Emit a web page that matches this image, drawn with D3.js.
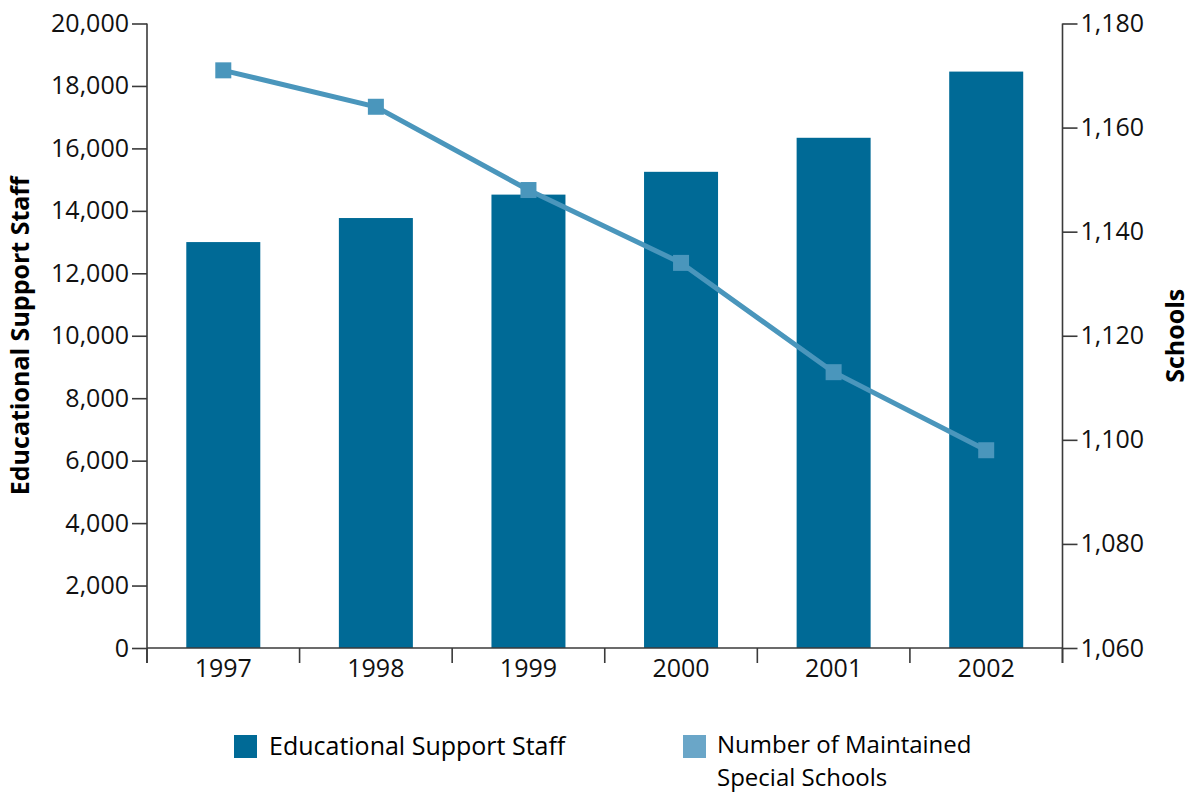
<!DOCTYPE html>
<html>
<head>
<meta charset="utf-8">
<script src="https://cdn.jsdelivr.net/npm/d3@7"></script>
<style>
  body { margin: 0; background: #fff; }
  svg { font-family: "Open Sans", sans-serif; }
  .axis { font-family: "Open Sans", sans-serif; }
  .axis path, .axis line { stroke: #3a3a3a; stroke-width: 1.6; }
  .axis text { fill: #111; font-size: 25px; }
</style>
</head>
<body>
<div id="chart"></div>
<script>
const years = ["1997", "1998", "1999", "2000", "2001", "2002"];
const staff = [13000, 13770, 14520, 15250, 16340, 18460];
const schools = [1171, 1164, 1148, 1134, 1113, 1098];
const staffTicks = [0, 2000, 4000, 6000, 8000, 10000, 12000, 14000, 16000, 18000, 20000];
const schoolTicks = [1060, 1080, 1100, 1120, 1140, 1160, 1180];

const width = 1191, height = 794;
const plotLeft = 147, plotRight = 1062.5, plotTop = 23.5, plotBottom = 648;

const svg = d3.select("#chart").append("svg")
    .attr("width", width)
    .attr("height", height);

const x = d3.scaleBand()
    .domain(years)
    .range([plotLeft, plotRight])
    .paddingInner(0.515)
    .paddingOuter(0.2575);

const yLeft = d3.scaleLinear().domain([0, 20000]).range([plotBottom, plotTop]);
const yRight = d3.scaleLinear().domain([1060, 1180]).range([plotBottom, plotTop]);

const fmt = d3.format(",");

// bars
svg.append("g")
  .selectAll("rect")
  .data(staff)
  .enter().append("rect")
    .attr("x", (d, i) => x(years[i]))
    .attr("y", d => yLeft(d))
    .attr("width", x.bandwidth())
    .attr("height", d => plotBottom - yLeft(d))
    .attr("fill", "#006a96");

// left axis
svg.append("g")
    .attr("class", "axis")
    .attr("transform", "translate(" + plotLeft + ",0)")
    .call(d3.axisLeft(yLeft).tickValues(staffTicks).tickFormat(fmt).tickSize(15).tickPadding(3).tickSizeOuter(0))
    .call(g => g.select(".domain").attr("d", "M0," + plotTop + "V" + (plotBottom + 15)));

// right axis
svg.append("g")
    .attr("class", "axis")
    .attr("transform", "translate(" + plotRight + ",0)")
    .call(d3.axisRight(yRight).tickValues(schoolTicks).tickFormat(fmt).tickSize(15).tickPadding(3).tickSizeOuter(0))
    .call(g => g.select(".domain").attr("d", "M0," + plotTop + "V" + (plotBottom + 15)));

// bottom axis: labels centred, ticks on band boundaries
const xAxis = svg.append("g")
    .attr("class", "axis")
    .attr("transform", "translate(0," + plotBottom + ")")
    .call(d3.axisBottom(x).tickSize(0).tickPadding(11).tickSizeOuter(0));
xAxis.select(".domain").attr("d", "M" + plotLeft + ",0H" + plotRight);
xAxis.selectAll(".bound")
  .data(d3.range(years.length + 1))
  .enter().append("line")
    .attr("class", "bound")
    .attr("x1", i => plotLeft + i * x.step())
    .attr("x2", i => plotLeft + i * x.step())
    .attr("y1", 0)
    .attr("y2", 15);

// line + markers
const line = d3.line()
    .x((d, i) => x(years[i]) + x.bandwidth() / 2)
    .y(d => yRight(d));

svg.append("path")
    .datum(schools)
    .attr("d", line)
    .attr("fill", "none")
    .attr("stroke", "#4a96bc")
    .attr("stroke-width", 5);

svg.append("g")
  .selectAll("rect")
  .data(schools)
  .enter().append("rect")
    .attr("x", (d, i) => x(years[i]) + x.bandwidth() / 2 - 8)
    .attr("y", d => yRight(d) - 8)
    .attr("width", 16)
    .attr("height", 16)
    .attr("fill", "#4a96bc");

// axis titles
svg.append("text")
    .attr("transform", "translate(29," + (plotTop + plotBottom) / 2 + ") rotate(-90)")
    .attr("text-anchor", "middle")
    .style("font-size", "25px")
    .style("font-weight", "bold")
    .text("Educational Support Staff");

svg.append("text")
    .attr("transform", "translate(1184," + (plotTop + plotBottom) / 2 + ") rotate(-90)")
    .attr("text-anchor", "middle")
    .style("font-size", "25px")
    .style("font-weight", "bold")
    .text("Schools");

// legend
const legend = svg.append("g").style("font-size", "24px");
legend.append("rect").attr("x", 234).attr("y", 735).attr("width", 23).attr("height", 23).attr("fill", "#006a96");
legend.append("text").attr("x", 269).attr("y", 755).style("font-size", "25px").text("Educational Support Staff");
legend.append("rect").attr("x", 683).attr("y", 735).attr("width", 23).attr("height", 23).attr("fill", "#6aa6c8");
legend.append("text").attr("x", 717).attr("y", 753).text("Number of Maintained");
legend.append("text").attr("x", 717).attr("y", 786).text("Special Schools");
</script>
</body>
</html>
